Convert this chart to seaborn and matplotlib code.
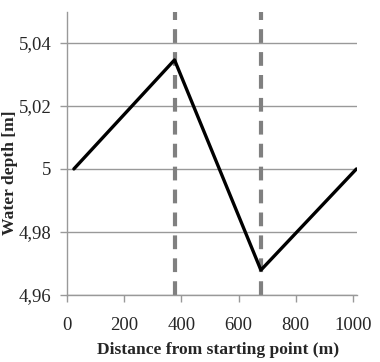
import matplotlib
matplotlib.use("Agg")
import matplotlib.pyplot as plt
import seaborn as sns
import pandas as pd
from matplotlib.ticker import FuncFormatter

distance = [24, 376, 678, 1012]
depth = [5.0, 5.0346, 4.9679, 5.0]
markers_x = [378, 678]
xticks = [0, 200, 400, 600, 800, 1000]
yticks = [4.96, 4.98, 5.0, 5.02, 5.04]

sns.set_style("white")
plt.rcParams["font.family"] = ["Liberation Serif", "DejaVu Serif"]

df = pd.DataFrame({"x": distance, "y": depth})
fig = plt.figure(figsize=(3.8, 3.62), dpi=100)
ax = fig.add_axes([67/380, 1-295/362, 290/380, 283/362])

for y in yticks:
    ax.axhline(y, color="#999999", lw=1.0, zorder=1)
for xm in markers_x:
    ax.axvline(xm, color="#808080", lw=3, linestyle=(0, (3.3, 2.2)), zorder=2)

sns.lineplot(data=df, x="x", y="y", color="black", lw=2.4, ax=ax, zorder=3)

ax.set_xlim(0, 1014)
ax.set_ylim(4.96, 5.0498)
ax.set_xticks(xticks)
ax.set_yticks(yticks)
ax.yaxis.set_major_formatter(FuncFormatter(lambda v, p: ("%g" % round(v, 2)).replace(".", ",")))
ax.tick_params(axis="both", labelsize=13.5, color="#999999", length=5, width=1, direction="out",
               bottom=True, left=True)
ax.tick_params(axis="x", pad=11)
ax.tick_params(axis="y", pad=6)
for s in ["top", "right"]:
    ax.spines[s].set_visible(False)
for s in ["left", "bottom"]:
    ax.spines[s].set_color("#999999")
    ax.spines[s].set_linewidth(1.0)

ax.set_xlabel("Distance from starting point (m)", fontsize=12.6, fontweight="bold")
ax.xaxis.set_label_coords((218-67)/290, -(342-295)/283)
ax.set_ylabel("Water depth [m]", fontsize=12.6, fontweight="bold")
ax.yaxis.set_label_coords(-(67-18)/290, (295-173)/283)

fig.savefig("out.png", dpi=100)
